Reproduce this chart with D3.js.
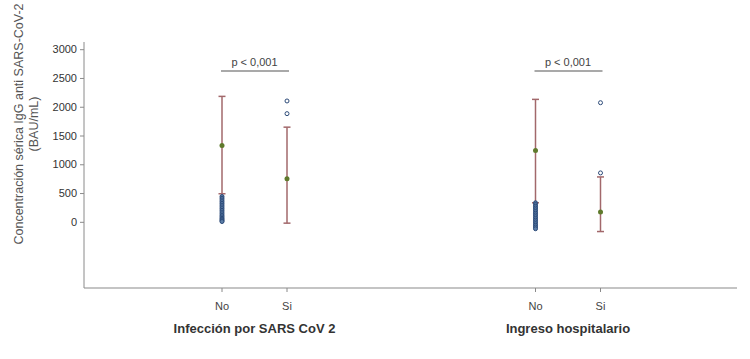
<!DOCTYPE html>
<html>
<head>
<meta charset="utf-8">
<script src="https://cdn.jsdelivr.net/npm/d3@7"></script>
<style>
  body { margin: 0; background: #fff; }
  svg { display: block; font-family: "Liberation Sans", Arial, sans-serif; }
</style>
</head>
<body>
<div id="chart"></div>
<script>
// groups and categories on the x axis
const groups = ['Infección por SARS CoV 2', 'Ingreso hospitalario']
const categories = ['No', 'Si']
const pLabels = ['p < 0,001', 'p < 0,001']

// mean and whisker ends, per group, per category
const means = [[1325, 750], [1238, 169]]
const upper = [[2180, 1645], [2128, 780]]
const lower = [[488, -23], [331, -169]]

// points drawn beyond the whiskers
const outliers = [
    [
        [440, 410, 380, 350, 320, 290, 260, 230, 200, 170, 140, 110, 85, 60, 40, 20, 5],
        [2100, 1880]
    ],
    [
        [330, 300, 270, 240, 210, 180, 150, 120, 90, 60, 30, 0, -30, -60, -90, -120],
        [2070, 850]
    ]
]

const yTicks = [0, 500, 1000, 1500, 2000, 2500, 3000]

const width = 750, height = 359
const svg = d3.select('#chart').append('svg')
    .attr('width', width).attr('height', height)

const axisLeft = 84, axisRight = 737, axisTop = 42, axisBottom = 288

const y = d3.scaleLinear().domain([-1150, 3125]).range([axisBottom, axisTop])

// group centres, categories spread either side
const xGroup = d3.scalePoint().domain(groups).range([254.5, 568])
const xCat = d3.scalePoint().domain(categories).range([-32.5, 32.5])
function xPos(g, c) {
    return xGroup(groups[g]) + xCat(categories[c])
}

const grey = '#8a8a8a'

// y axis
const yAxis = svg.append('g')
    .attr('transform', `translate(${axisLeft},0)`)
    .call(d3.axisLeft(y).tickValues(yTicks).tickFormat(d3.format('d')).tickSize(4).tickPadding(3).tickSizeOuter(0))
yAxis.select('.domain').attr('stroke', grey).attr('d', `M0,${axisTop}V${axisBottom}`)
yAxis.selectAll('.tick line').attr('stroke', grey)
yAxis.selectAll('.tick text').attr('fill', '#333').style('font-size', '11px')

// x axis line with ticks under each category
svg.append('line')
    .attr('x1', axisLeft).attr('x2', axisRight)
    .attr('y1', axisBottom).attr('y2', axisBottom)
    .attr('stroke', grey).attr('stroke-width', 1.2)

groups.forEach((g, gi) => {
    categories.forEach((c, ci) => {
        const x = xPos(gi, ci)
        svg.append('line')
            .attr('x1', x).attr('x2', x)
            .attr('y1', axisBottom).attr('y2', axisBottom + 4)
            .attr('stroke', grey)
        svg.append('text')
            .attr('x', x).attr('y', axisBottom + 22)
            .attr('text-anchor', 'middle')
            .attr('fill', '#444').style('font-size', '11px')
            .text(c)

        // whisker
        svg.append('line')
            .attr('x1', x).attr('x2', x)
            .attr('y1', y(upper[gi][ci])).attr('y2', y(lower[gi][ci]))
            .attr('stroke', '#a2686b').attr('stroke-width', 1.5)
        ;[upper[gi][ci], lower[gi][ci]].forEach(v => {
            svg.append('line')
                .attr('x1', x - 3.5).attr('x2', x + 3.5)
                .attr('y1', y(v)).attr('y2', y(v))
                .attr('stroke', '#a2686b').attr('stroke-width', 1.5)
        })

        // outliers
        svg.selectAll(null)
            .data(outliers[gi][ci])
            .enter().append('circle')
            .attr('cx', x).attr('cy', d => y(d))
            .attr('r', 2)
            .attr('fill', outliers[gi][ci].length > 3 ? '#5d7fa8' : '#fff')
            .attr('stroke', '#2c4a78').attr('stroke-width', 1)

        // mean
        svg.append('circle')
            .attr('cx', x).attr('cy', y(means[gi][ci]))
            .attr('r', 2.5)
            .attr('fill', '#5f7a2c')
    })

    // significance bracket
    const x0 = xPos(gi, 0), x1 = xPos(gi, 1)
    svg.append('line')
        .attr('x1', x0 - 1).attr('x2', x1 + 2)
        .attr('y1', 71).attr('y2', 71)
        .attr('stroke', '#555').attr('stroke-width', 1.2)
    svg.append('text')
        .attr('x', (x0 + x1) / 2).attr('y', 66)
        .attr('text-anchor', 'middle')
        .attr('fill', '#444').style('font-size', '11px')
        .text(pLabels[gi])

    // group label
    svg.append('text')
        .attr('x', (x0 + x1) / 2).attr('y', 333)
        .attr('text-anchor', 'middle')
        .attr('fill', '#333').style('font-size', '13px').style('font-weight', 'bold')
        .text(g)
})

// y axis title
const yTitle = svg.append('text')
    .attr('transform', 'translate(23,124) rotate(-90)')
    .attr('text-anchor', 'middle')
    .attr('fill', '#555').style('font-size', '12.5px')
yTitle.append('tspan').attr('x', 0).attr('dy', 0).text('Concentración sérica IgG  anti SARS-CoV-2')
yTitle.append('tspan').attr('x', 0).attr('dy', 15).text('(BAU/mL)')
</script>
</body>
</html>
